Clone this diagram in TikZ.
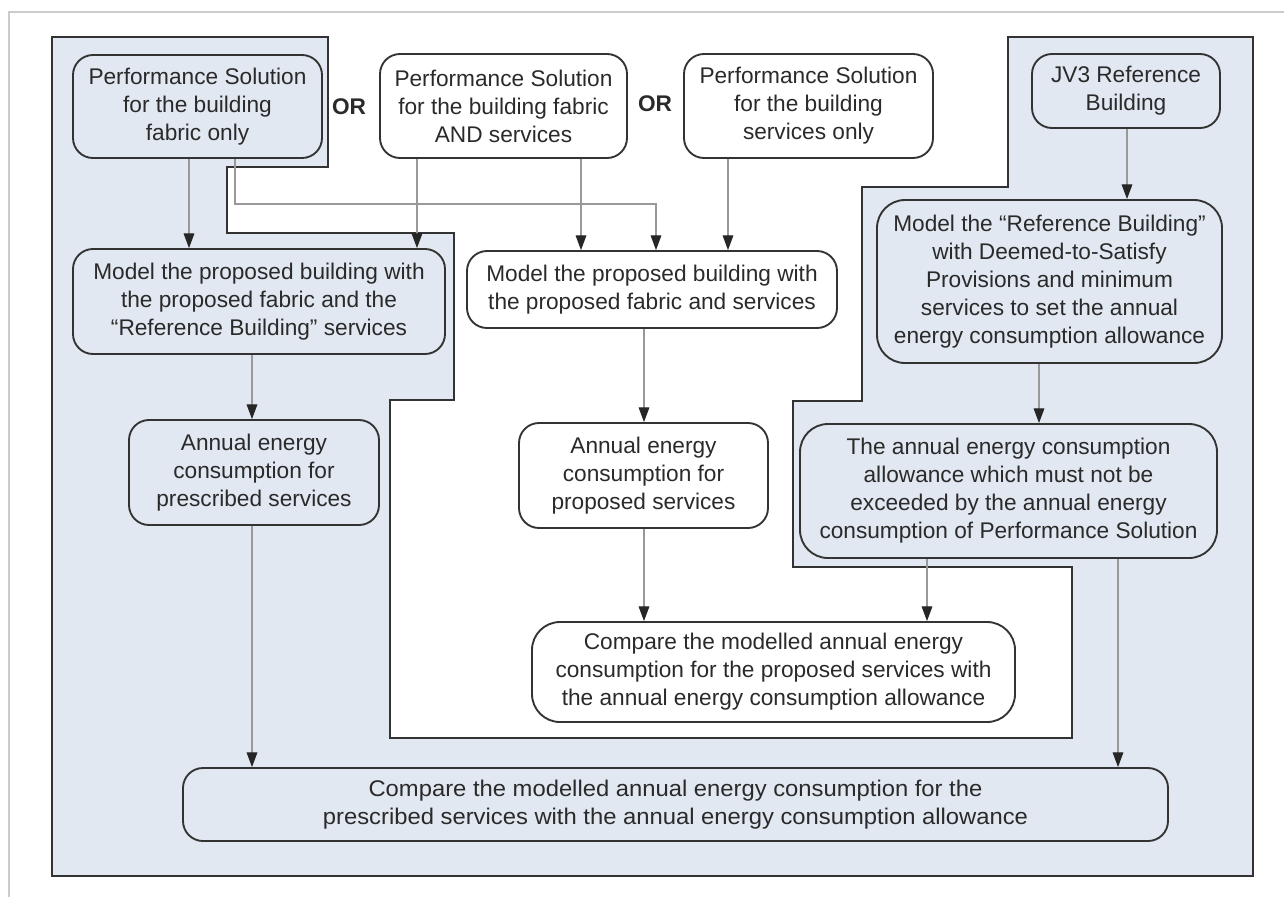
\documentclass[tikz,border=0pt]{standalone}
\usepackage{fontspec}
\setmainfont{Liberation Sans}
\usetikzlibrary{arrows.meta}
\definecolor{shade}{HTML}{E1E8F1}
\definecolor{boxline}{HTML}{333333}
\definecolor{polyline}{HTML}{333333}
\definecolor{arrline}{HTML}{999999}
\definecolor{txt}{HTML}{2A2A2A}
\definecolor{framegray}{HTML}{CCCCCC}
\begin{document}
\begin{tikzpicture}[x=0.75pt,y=-0.75pt,
  box/.style={draw=boxline, line width=1.4pt, rounded corners=15pt, align=center,
    inner sep=0pt, text=txt, font=\fontsize{17}{21}\selectfont},
  bigbox/.style={box, rounded corners=21pt},
  orlabel/.style={text=txt, font=\fontsize{17}{21}\selectfont\bfseries, inner sep=0pt},
  arr/.style={draw=arrline, line width=0.8pt, -{Triangle[length=11pt,width=8pt,color=black!85]}},
  region/.style={fill=shade, draw=polyline, line width=2.2pt}
]
\useasboundingbox (0,0) rectangle (1284,897);
% outer light frame
\draw[framegray, line width=1.5pt] (1284,12) -- (9,12) -- (9,897);
% shaded region
\draw[region] (52,37) -- (328,37) -- (328,167) -- (227,167) -- (227,233) -- (454,233)
  -- (454,400) -- (390,400) -- (390,738) -- (1072,738) -- (1072,567) -- (793,567)
  -- (793,401) -- (862,401) -- (862,187) -- (1008,187) -- (1008,37) -- (1253,37)
  -- (1253,876) -- (52,876) -- cycle;

% nodes
\node[box, minimum width=186.75pt, minimum height=77.25pt] (A) at (197.5,106.5)
  {Performance Solution\\for the building\\fabric only};
\node[box, minimum width=185.25pt, minimum height=78pt] (B) at (503.5,106)
  {Performance Solution\\for the building fabric\\AND services};
\node[box, minimum width=186.75pt, minimum height=78pt] (C) at (808.5,106)
  {Performance Solution\\for the building\\services only};
\node[box, minimum width=141pt, minimum height=55.5pt] (JV) at (1126,91)
  {JV3 Reference\\Building};
\node[orlabel] (or1) at (349,107) {OR};
\node[orlabel] (or2) at (655,104) {OR};

\node[box, minimum width=279pt, minimum height=78.75pt] (ML) at (259,301.5)
  {Model the proposed building with\\the proposed fabric and the\\“Reference Building” services};
\node[box, minimum width=277.5pt, minimum height=57.75pt] (MM) at (652,289.5)
  {Model the proposed building with\\the proposed fabric and services};
\node[bigbox, minimum width=258.75pt, minimum height=122.25pt] (MR) at (1049.5,281.5)
  {Model the “Reference Building”\\with Deemed-to-Satisfy\\Provisions and minimum\\services to set the annual\\energy consumption allowance};

\node[box, minimum width=187.5pt, minimum height=78.75pt] (AP) at (254,472.5)
  {Annual energy\\consumption for\\prescribed services};
\node[box, minimum width=186.75pt, minimum height=78.75pt] (AQ) at (643.5,475.5)
  {Annual energy\\consumption for\\proposed services};
\node[bigbox, minimum width=312.75pt, minimum height=100.5pt] (AL) at (1008.5,491)
  {The annual energy consumption\\allowance which must not be\\exceeded by the annual energy\\consumption of Performance Solution};

\node[bigbox, minimum width=362.25pt, minimum height=75pt] (CM) at (773.5,672)
  {Compare the modelled annual energy\\consumption for the proposed services with\\the annual energy consumption allowance};
\node[box, minimum width=738.75pt, minimum height=54.75pt] (CB) at (675.5,804.5)
  {\scalebox{1.05}[1]{\parbox{520pt}{\centering Compare the modelled annual energy consumption for the\\prescribed services with the annual energy consumption allowance}}};

% connector columns
\coordinate (x189) at (189,0);
\coordinate (x417) at (417,0);
\coordinate (x581) at (581,0);
\coordinate (x728) at (728,0);
\coordinate (x1127) at (1127,0);
\coordinate (x252) at (252,0);
\coordinate (x644) at (644,0);
\coordinate (x1039) at (1039,0);
\coordinate (x927) at (927,0);
\coordinate (x1118) at (1118,0);
\coordinate (x235) at (235,0);
\coordinate (j) at (656,204);

% connectors
\draw[arr] (A.south -| x189) -- (ML.north -| x189);
\draw[arr] (A.south -| x235) |- (j) -- (MM.north -| j);
\draw[arr] (B.south -| x417) -- (ML.north -| x417);
\draw[arr] (B.south -| x581) -- (MM.north -| x581);
\draw[arr] (C.south -| x728) -- (MM.north -| x728);
\draw[arr] (JV.south -| x1127) -- (MR.north -| x1127);
\draw[arr] (ML.south -| x252) -- (AP.north -| x252);
\draw[arr] (MM.south -| x644) -- (AQ.north -| x644);
\draw[arr] (MR.south -| x1039) -- (AL.north -| x1039);
\draw[arr] (AQ.south -| x644) -- (CM.north -| x644);
\draw[arr] (AL.south -| x927) -- (CM.north -| x927);
\draw[arr] (AP.south -| x252) -- (CB.north -| x252);
\draw[arr] (AL.south -| x1118) -- (CB.north -| x1118);
\end{tikzpicture}
\end{document}
